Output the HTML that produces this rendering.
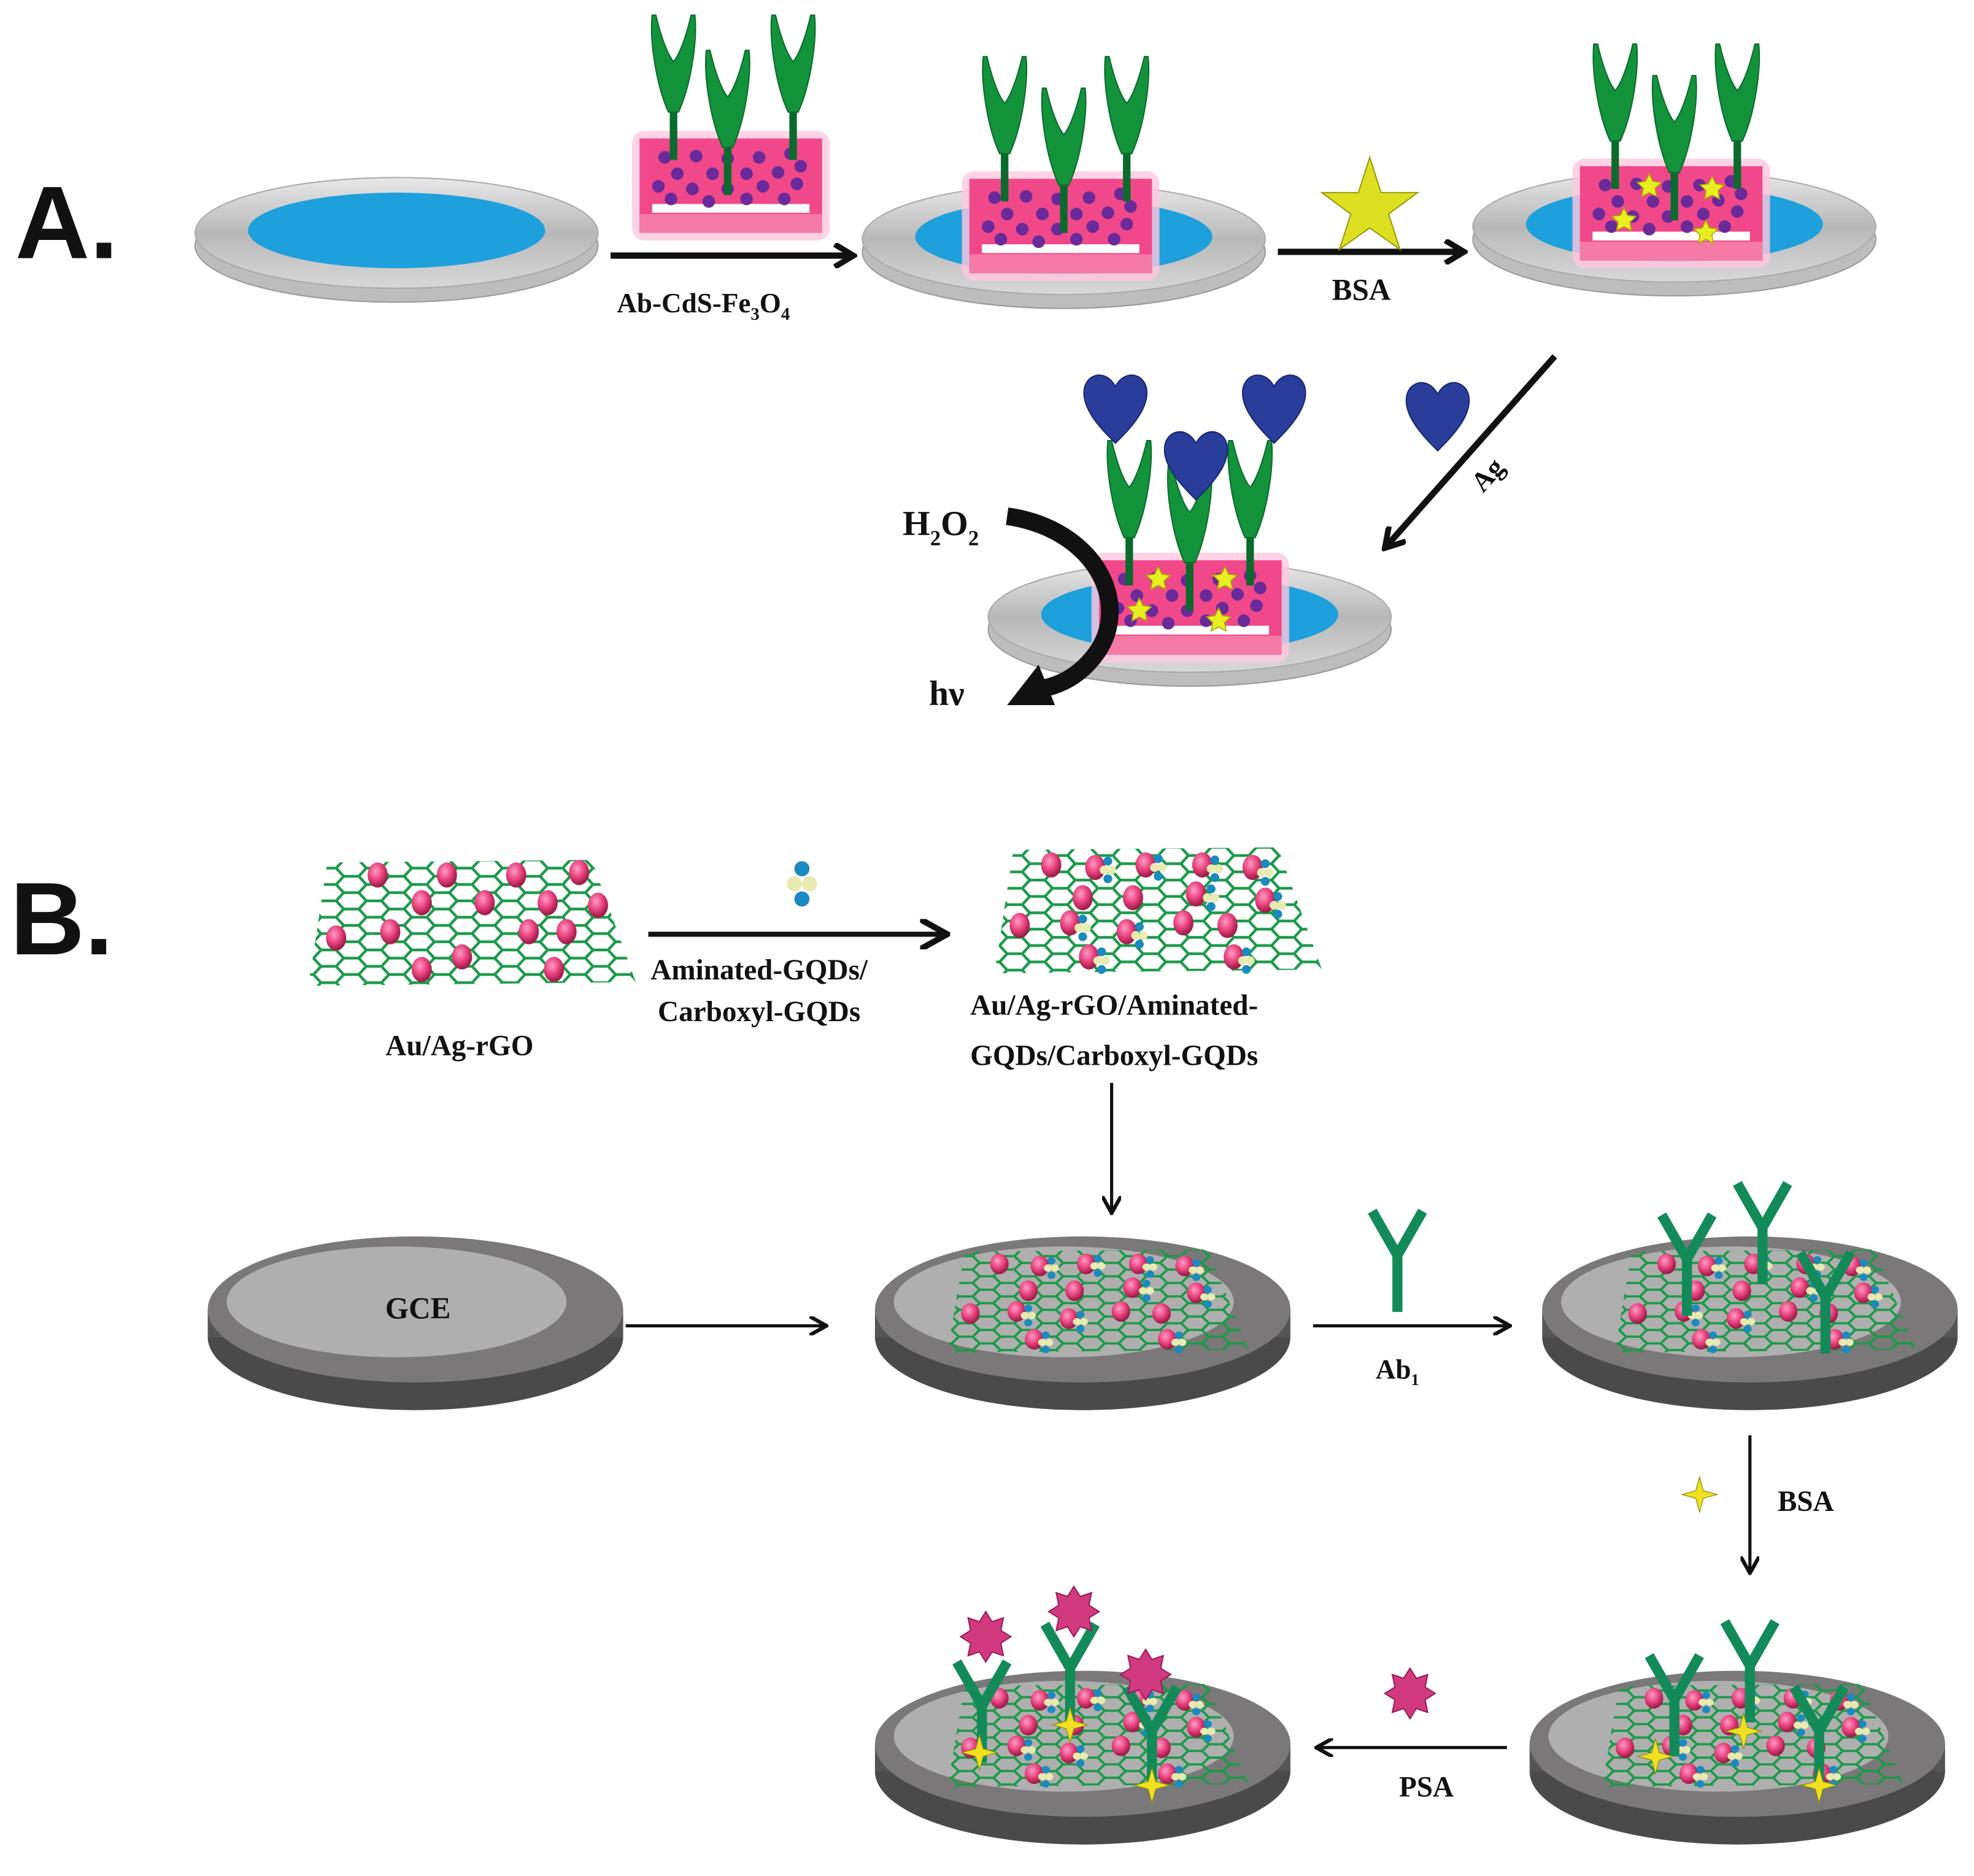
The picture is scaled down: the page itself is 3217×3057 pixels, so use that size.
<!DOCTYPE html>
<html><head><meta charset="utf-8"><style>
html,body{margin:0;padding:0;background:#fff;width:3217px;height:3057px;overflow:hidden}
svg{display:block}
text{font-family:"Liberation Serif",serif;font-weight:bold;fill:#111}
</style></head><body>
<svg width="3217" height="3057" viewBox="0 0 1568 1490" preserveAspectRatio="none" xmlns="http://www.w3.org/2000/svg">
<defs>
<linearGradient id="dg" x1="0" y1="0" x2="0" y2="1"><stop offset="0" stop-color="#e8e8e8"/><stop offset="0.5" stop-color="#b8b8b8"/><stop offset="1" stop-color="#d8d8d8"/></linearGradient>
<radialGradient id="pk" cx="0.4" cy="0.35" r="0.6"><stop offset="0" stop-color="#ff9cc4"/><stop offset="0.6" stop-color="#e8407c"/><stop offset="1" stop-color="#a0204c"/></radialGradient>
<pattern id="hex" width="36" height="13" patternUnits="userSpaceOnUse">
<path d="M0,6.5 L6,0 L18,0 L24,6.5 L18,13 L6,13 Z M24,6.5 L36,6.5" fill="none" stroke="#1a9a4a" stroke-width="2.2"/>
</pattern>
<marker id="ah" viewBox="0 0 10 10" refX="8" refY="5" markerWidth="6" markerHeight="6" orient="auto"><path d="M0,0 L9,5 L0,10" fill="none" stroke="#111" stroke-width="2"/></marker>
<marker id="ahb" viewBox="0 0 10 10" refX="7" refY="5" markerWidth="4" markerHeight="4" orient="auto"><path d="M1,0.5 L8.5,5 L1,9.5" fill="none" stroke="#111" stroke-width="2.3"/></marker>

<g id="diskA">
<ellipse cx="0" cy="10" rx="160" ry="45" fill="#bdbdbd" stroke="#999" stroke-width="1"/>
<ellipse cx="0" cy="0" rx="160" ry="44" fill="url(#dg)" stroke="#aaa" stroke-width="1"/>
<ellipse cx="0" cy="-2" rx="118" ry="30" fill="#1ea0dc"/>
</g>
<g id="abA">
<rect x="-3" y="-40" width="6" height="40" fill="#0b6b2c"/>
<path d="M-4,-38 C-14,-60 -19,-95 -17,-115 L-14,-115 C-10,-98 -5,-84 0,-78 C5,-84 10,-98 14,-115 L17,-115 C19,-95 14,-60 4,-38 Z" fill="#13923c" stroke="#0b6b2c" stroke-width="1"/>
</g>
<g id="box">
<rect x="-6" y="-6" width="157" height="87" rx="10" fill="#ffc8df" opacity="0.8"/>
<rect x="0" y="0" width="145" height="75" fill="#f04888"/>
<rect x="10" y="52" width="125" height="7" fill="#fff"/>
<rect x="0" y="60" width="145" height="15" fill="#f57aa6"/>
<g fill="#6a2a9a">
<circle cx="20" cy="15" r="5"/><circle cx="45" cy="14" r="5"/><circle cx="70" cy="16" r="5"/><circle cx="95" cy="15" r="5"/><circle cx="120" cy="12" r="5"/>
<circle cx="30" cy="28" r="5"/><circle cx="58" cy="28" r="5"/><circle cx="85" cy="28" r="5"/><circle cx="110" cy="27" r="5"/><circle cx="128" cy="22" r="5"/>
<circle cx="15" cy="38" r="5"/><circle cx="42" cy="40" r="5"/><circle cx="70" cy="40" r="5"/><circle cx="98" cy="38" r="5"/><circle cx="125" cy="36" r="5"/>
<circle cx="25" cy="48" r="5"/><circle cx="55" cy="50" r="5"/><circle cx="85" cy="48" r="5"/><circle cx="115" cy="48" r="5"/>
</g>
</g>
<path id="star" d="M0,-10 L2.9,-4 L9.5,-3.1 L4.7,1.5 L5.9,8.1 L0,5 L-5.9,8.1 L-4.7,1.5 L-9.5,-3.1 L-2.9,-4 Z" fill="#e8ee20" stroke="#a8a800" stroke-width="0.8"/>
<path id="heart" d="M0,30 C-10,20 -25,5 -25,-10 C-25,-25 -8,-30 0,-15 C8,-30 25,-25 25,-10 C25,5 10,20 0,30 Z" fill="#2a3d9a" stroke="#1a2670" stroke-width="1"/>

<g id="diskB">
<ellipse cx="0" cy="22" rx="165" ry="58" fill="#4a4a4a"/>
<rect x="-165" y="0" width="330" height="22" fill="#555"/>
<ellipse cx="0" cy="0" rx="165" ry="58" fill="#7a7878"/>
<ellipse cx="-15" cy="-6" rx="135" ry="44" fill="#b0afb0"/>
</g>
<clipPath id="sheetClip"><path d="M-115,-50 L95,-52 L130,45 L-130,48 Z"/></clipPath>
<g id="sheet">
<g clip-path="url(#sheetClip)"><rect x="-140" y="-60" width="280" height="120" fill="url(#hex)"/></g>
</g>
<g id="np"><ellipse cx="0" cy="0" rx="8" ry="10" fill="url(#pk)"/></g>
<g id="gqd"><circle cx="0" cy="-7" r="3.5" fill="#1a8ac0"/><circle cx="-3" cy="0" r="3.5" fill="#e8eab0"/><circle cx="3" cy="0" r="3.5" fill="#e8eab0"/><circle cx="0" cy="7" r="3.5" fill="#1a8ac0"/></g>
<g id="sheetFull">
<use href="#sheet"/>
<use href="#np" x="-85" y="-38"/><use href="#np" x="-50" y="-36"/><use href="#gqd" x="-40" y="-34"/><use href="#np" x="-10" y="-38"/><use href="#gqd" x="0" y="-36"/><use href="#np" x="35" y="-38"/><use href="#gqd" x="45" y="-35"/><use href="#np" x="75" y="-36"/><use href="#gqd" x="85" y="-32"/>
<use href="#np" x="-60" y="-12"/><use href="#np" x="-20" y="-12"/><use href="#np" x="30" y="-15"/><use href="#gqd" x="42" y="-12"/><use href="#np" x="85" y="-10"/><use href="#gqd" x="95" y="-6"/>
<use href="#np" x="-110" y="10"/><use href="#np" x="-70" y="8"/><use href="#gqd" x="-60" y="12"/><use href="#np" x="-25" y="15"/><use href="#gqd" x="-15" y="18"/><use href="#np" x="20" y="8"/><use href="#np" x="55" y="10"/>
<use href="#np" x="-55" y="35"/><use href="#gqd" x="-45" y="38"/><use href="#np" x="60" y="35"/><use href="#gqd" x="70" y="38"/>
</g>
<g id="Y"><path d="M0,0 L0,-45 M0,-45 L-20,-80 M0,-45 L20,-80" stroke="#138a5a" stroke-width="8" fill="none" stroke-linecap="butt"/></g>
<g id="plus"><path d="M0,-14 L3,-3 L14,0 L3,3 L0,14 L-3,3 L-14,0 L-3,-3 Z" fill="#f0e020" stroke="#8a8a10" stroke-width="0.6"/></g>
<g id="virus"><path d="M0,-20 L5,-12 L14,-15 L12,-5 L20,0 L12,5 L14,15 L5,12 L0,20 L-5,12 L-14,15 L-12,5 L-20,0 L-12,-5 L-14,-15 L-5,-12 Z" fill="#d23a80" stroke="#9a1a5a" stroke-width="1"/></g>
</defs>

<!-- A -->
<text x="12" y="205" style="font-family:'Liberation Sans',sans-serif;font-weight:bold;font-size:82px">A.</text>
<use href="#diskA" x="315" y="185"/>
<line x1="485" y1="203" x2="675" y2="203" stroke="#111" stroke-width="5" marker-end="url(#ahb)"/>
<text x="490" y="248" font-size="22">Ab-CdS-Fe<tspan font-size="14" dy="6">3</tspan><tspan dy="-6">O</tspan><tspan font-size="14" dy="6">4</tspan></text>
<use href="#box" x="508" y="110"/>
<use href="#abA" x="535" y="127"/><use href="#abA" x="578" y="155"/><use href="#abA" x="630" y="127"/>

<use href="#diskA" x="845" y="190"/>
<use href="#box" x="770" y="142"/>
<use href="#abA" x="798" y="160"/><use href="#abA" x="845" y="185"/><use href="#abA" x="895" y="160"/>
<line x1="1015" y1="200" x2="1160" y2="200" stroke="#111" stroke-width="5" marker-end="url(#ahb)"/>
<path d="M0,-40 L9,-12 L38,-12 L15,5 L24,33 L0,16 L-24,33 L-15,5 L-38,-12 L-9,-12 Z" transform="translate(1088,165)" fill="#dce020" stroke="#9a9a10" stroke-width="1"/>
<text x="1058" y="238" font-size="24">BSA</text>

<use href="#diskA" x="1330" y="180"/>
<use href="#box" x="1255" y="132"/>
<use href="#abA" x="1283" y="150"/><use href="#abA" x="1330" y="175"/><use href="#abA" x="1380" y="150"/>
<use href="#star" x="1310" y="148"/><use href="#star" x="1360" y="150"/><use href="#star" x="1290" y="175"/><use href="#star" x="1355" y="185"/>

<line x1="1235" y1="283" x2="1102" y2="433" stroke="#111" stroke-width="5" marker-end="url(#ahb)"/>
<use href="#heart" x="1142" y="328"/>
<text x="0" y="0" font-size="22" transform="translate(1178,392) rotate(-48)">Ag</text>

<use href="#diskA" x="945" y="490"/>
<use href="#box" x="873" y="445"/>
<use href="#abA" x="897" y="465"/><use href="#abA" x="945" y="485"/><use href="#abA" x="993" y="465"/>
<use href="#star" x="920" y="460"/><use href="#star" x="973" y="460"/><use href="#star" x="905" y="485"/><use href="#star" x="968" y="493"/>
<use href="#heart" x="886" y="322"/><use href="#heart" x="1012" y="322"/><use href="#heart" x="950" y="367"/>
<path d="M800,410 C870,420 900,480 870,520 C855,540 835,548 815,548" fill="none" stroke="#111" stroke-width="14"/>
<path d="M800,560 L825,528 L838,560 Z" fill="#111"/>
<text x="717" y="425" font-size="28">H<tspan font-size="17" dy="8">2</tspan><tspan dy="-8">O</tspan><tspan font-size="17" dy="8">2</tspan></text>
<text x="738" y="560" font-size="28">hν</text>

<!-- B -->
<text x="8" y="758" style="font-family:'Liberation Sans',sans-serif;font-weight:bold;font-size:82px">B.</text>
<g transform="translate(375,735)">
<use href="#sheet"/>
<use href="#np" x="-75" y="-40"/><use href="#np" x="-20" y="-40"/><use href="#np" x="35" y="-40"/><use href="#np" x="85" y="-42"/>
<use href="#np" x="-40" y="-18"/><use href="#np" x="10" y="-18"/><use href="#np" x="60" y="-18"/><use href="#np" x="100" y="-16"/>
<use href="#np" x="-65" y="5"/><use href="#np" x="-108" y="10"/><use href="#np" x="-8" y="25"/><use href="#np" x="45" y="5"/><use href="#np" x="75" y="5"/>
<use href="#np" x="-40" y="35"/><use href="#np" x="65" y="35"/>
</g>
<text x="365" y="838" font-size="23" text-anchor="middle">Au/Ag-rGO</text>
<line x1="515" y1="742" x2="750" y2="742" stroke="#111" stroke-width="4" marker-end="url(#ah)"/>
<g transform="translate(637,702)"><circle cx="0" cy="-12" r="6" fill="#1a8ac0"/><circle cx="-6" cy="0" r="6" fill="#e8eab0"/><circle cx="6" cy="0" r="6" fill="#e8eab0"/><circle cx="0" cy="12" r="6" fill="#1a8ac0"/></g>
<text x="603" y="778" font-size="23" text-anchor="middle">Aminated-GQDs/</text>
<text x="603" y="811" font-size="23" text-anchor="middle">Carboxyl-GQDs</text>
<use href="#sheetFull" x="920" y="725"/>
<text x="885" y="806" font-size="23" text-anchor="middle">Au/Ag-rGO/Aminated-</text>
<text x="885" y="846" font-size="23" text-anchor="middle">GQDs/Carboxyl-GQDs</text>
<line x1="883" y1="860" x2="883" y2="962" stroke="#111" stroke-width="2.5" marker-end="url(#ah)"/>

<use href="#diskB" x="330" y="1040"/>
<text x="332" y="1047" font-size="24" text-anchor="middle">GCE</text>
<line x1="497" y1="1053" x2="655" y2="1053" stroke="#111" stroke-width="2.5" marker-end="url(#ah)"/>

<use href="#diskB" x="860" y="1040"/>
<g transform="translate(872,1035) scale(0.92,0.82)"><use href="#sheetFull"/></g>
<line x1="1043" y1="1053" x2="1198" y2="1053" stroke="#111" stroke-width="2.5" marker-end="url(#ah)"/>
<use href="#Y" x="1110" y="1042"/>
<text x="1110" y="1095" font-size="22" text-anchor="middle">Ab<tspan font-size="13" dy="5">1</tspan></text>

<use href="#diskB" x="1390" y="1040"/>
<g transform="translate(1402,1035) scale(0.92,0.82)"><use href="#sheetFull"/></g>
<use href="#Y" x="1340" y="1045"/><use href="#Y" x="1400" y="1020"/><use href="#Y" x="1450" y="1075"/>
<line x1="1390" y1="1140" x2="1390" y2="1248" stroke="#111" stroke-width="2.5" marker-end="url(#ah)"/>
<use href="#plus" x="1350" y="1187"/>
<text x="1412" y="1200" font-size="23">BSA</text>

<use href="#diskB" x="1380" y="1385"/>
<g transform="translate(1392,1380) scale(0.92,0.82)"><use href="#sheetFull"/></g>
<use href="#Y" x="1330" y="1395"/><use href="#Y" x="1390" y="1368"/><use href="#Y" x="1445" y="1420"/>
<use href="#plus" x="1315" y="1395"/><use href="#plus" x="1385" y="1375"/><use href="#plus" x="1445" y="1418"/>
<line x1="1197" y1="1388" x2="1047" y2="1388" stroke="#111" stroke-width="2.5" marker-end="url(#ah)"/>
<use href="#virus" x="1120" y="1345"/>
<text x="1133" y="1427" font-size="23" text-anchor="middle">PSA</text>

<use href="#diskB" x="860" y="1385"/>
<g transform="translate(872,1380) scale(0.92,0.82)"><use href="#sheetFull"/></g>
<use href="#Y" x="780" y="1400"/><use href="#Y" x="850" y="1370"/><use href="#Y" x="915" y="1420"/>
<use href="#plus" x="778" y="1392"/><use href="#plus" x="850" y="1370"/><use href="#plus" x="915" y="1418"/>
<use href="#virus" x="783" y="1300"/><use href="#virus" x="853" y="1280"/><use href="#virus" x="910" y="1330"/>
</svg>
</body></html>
